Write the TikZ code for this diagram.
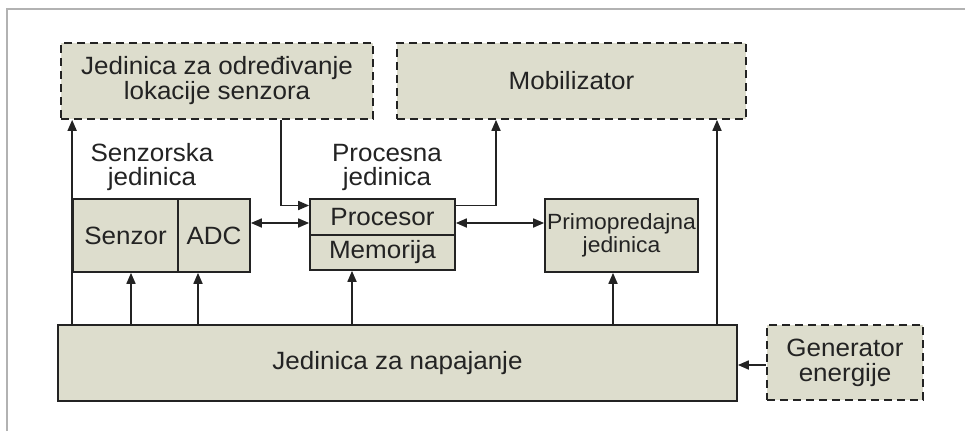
\documentclass[tikz,border=0pt]{standalone}
\usepackage{fontspec}
\setmainfont{Liberation Sans}[FakeStretch=1.04]
\usetikzlibrary{arrows.meta,calc}

\definecolor{boxfill}{RGB}{221,221,205}
\definecolor{ink}{RGB}{35,35,35}
\definecolor{framegray}{RGB}{178,178,178}

\tikzset{
  unit/.style={draw=ink, fill=boxfill, line width=1.7pt, inner sep=0pt,
    text=ink, align=center, font=\fontsize{25}{25}\selectfont},
  optunit/.style={unit, dash pattern=on 8pt off 5pt},
  caption/.style={text=ink, align=center, font=\fontsize{25}{24}\selectfont},
  link/.style={draw=ink, line width=1.7pt},
  arr/.style={link, -{Triangle[length=11pt,width=9pt]}},
  darr/.style={link, {Triangle[length=11pt,width=9pt]}-{Triangle[length=11pt,width=9pt]}},
}

\begin{document}
\begin{tikzpicture}[x=1pt, y=-1pt]
  \useasboundingbox (0,0) rectangle (965,431);
  \fill[white] (0,0) rectangle (965,431);

  % page frame
  \draw[framegray, line width=1.4pt] (7,431) -- (7,9) -- (965,9);

  % optional units (dashed)
  \node[optunit, minimum width=312pt, minimum height=76pt] (loc) at (217,81)
    {Jedinica za određivanje\\lokacije senzora};
  \node[optunit, minimum width=349pt, minimum height=76pt] (mob) at (571.5,81)
    {Mobilizator};
  \node[optunit, minimum width=156pt, minimum height=75pt] (gen) at (845,362.5)
    {Generator\\energije};

  % sensing unit
  \node[unit, minimum width=105pt, minimum height=73pt] (sen) at (125.5,235.5) {Senzor};
  \node[unit, minimum width=72pt, minimum height=73pt] (adc) at (214,235.5) {ADC};

  % processing unit
  \node[unit, minimum width=145pt, minimum height=36pt] (proc) at (382.5,217) {Procesor};
  \node[unit, minimum width=145pt, minimum height=35pt] (mem) at (382.5,252.5) {Memorija};

  % transceiver
  \node[unit, minimum width=153pt, minimum height=73pt,
        font=\fontsize{22}{23}\selectfont] (trx) at (621.5,235.5)
    {Primopredajna\\jedinica};

  % power unit
  \node[unit, minimum width=679pt, minimum height=76pt] (pwr) at (397.5,363)
    {Jedinica za napajanje};

  % group captions
  \node[caption] (senlbl) at (152,167) {Senzorska\\jedinica};
  \node[caption] (proclbl) at (387,167) {Procesna\\jedinica};

  % tap positions
  \coordinate (xsen) at (131,0);
  \coordinate (xadc) at (198,0);
  \coordinate (xmem) at (352,0);
  \coordinate (xtrx) at (613,0);
  \coordinate (xmob) at (717,0);
  \coordinate (xloc) at (281,0);
  \coordinate (xout) at (496,0);
  \coordinate (ybus) at (0,223);
  \coordinate (ytop) at (0,205.5);
  \coordinate (ygen) at (0,365);

  % power distribution
  \draw[arr] (pwr.north -| sen.west) -- (loc.south -| sen.west);
  \draw[arr] (pwr.north -| xsen) -- (sen.south -| xsen);
  \draw[arr] (pwr.north -| xadc) -- (adc.south -| xadc);
  \draw[arr] (pwr.north -| xmem) -- (mem.south -| xmem);
  \draw[arr] (pwr.north -| xtrx) -- (trx.south -| xtrx);
  \draw[arr] (pwr.north -| xmob) -- (mob.south -| xmob);

  % data paths
  \draw[arr] (loc.south -| xloc) |- (proc.west |- ytop);
  \draw[darr] (adc.east |- ybus) -- (proc.west |- ybus);
  \draw[darr] (proc.east |- ybus) -- (trx.west |- ybus);
  \draw[arr] (proc.east |- ytop) -| (mob.south -| xout);
  \draw[arr] (gen.west |- ygen) -- (pwr.east |- ygen);
\end{tikzpicture}
\end{document}
